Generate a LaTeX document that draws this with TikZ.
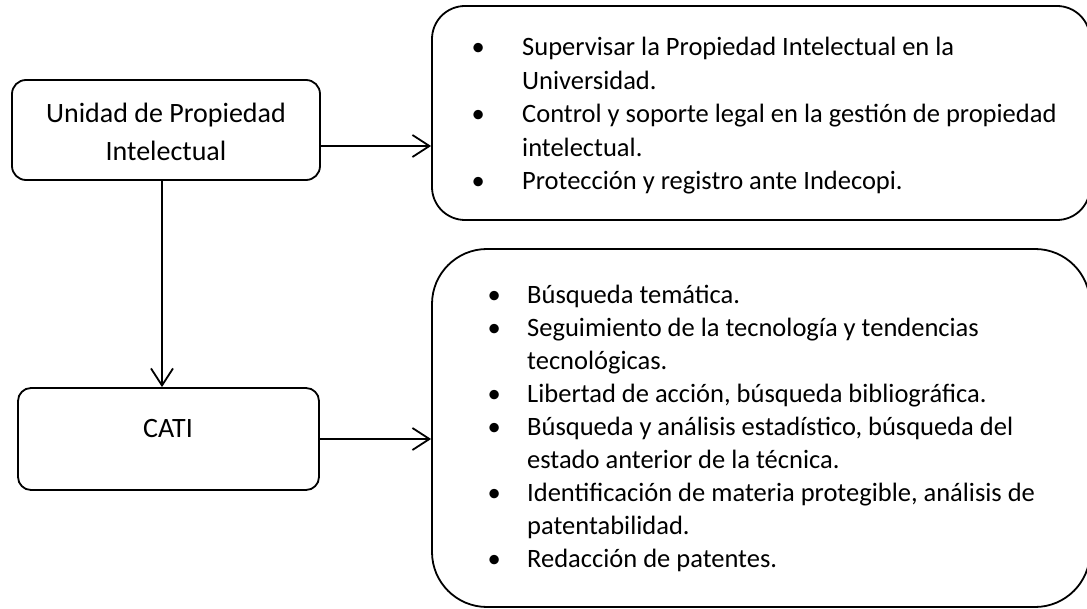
\documentclass[tikz,border=0pt]{standalone}
\usepackage{fontspec}
\setmainfont{Carlito}
\usetikzlibrary{arrows.meta}
\begin{document}
\begin{tikzpicture}[x=1pt,y=-1pt,
  box/.style={draw=black,line width=1.8pt,rounded corners=#1,inner sep=0pt},
  arr/.style={line width=1.8pt,-{Straight Barb[length=17pt,width=22pt,line width=1.8pt]}},
  lbl/.style={inner sep=0pt,anchor=base},
  lst/.style={inner sep=0pt,anchor=base west}]
\useasboundingbox (0,0) rectangle (1087,609);
% boxes
\node[box=14pt,minimum width=308pt,minimum height=100pt] (upi) at (166,130) {};
\node[box=13pt,minimum width=301pt,minimum height=102pt] (cati) at (168.5,439) {};
\node[box=33pt,minimum width=658pt,minimum height=214pt] (tr) at (761,113) {};
\node[box=55pt,minimum width=658pt,minimum height=358pt] (br) at (761,428) {};
% labels
\node[lbl] (upit) at (166,123) {\fontsize{28}{38}\selectfont
\begin{tabular}[t]{@{}c@{}}Unidad de Propiedad\\Intelectual\end{tabular}};
\node[lbl] (catit) at (168,437) {\fontsize{28}{38}\selectfont CATI};
% lists
\node[lst] (trl) at (478,56) {\fontsize{26.5}{33.5}\selectfont
\begin{tabular}[t]{@{}l@{\hspace{44pt}}l@{}}
\makebox[0pt]{\textbullet} & Supervisar la Propiedad Intelectual en la\\
 & Universidad.\\
\makebox[0pt]{\textbullet} & Control y soporte legal en la gestión de propiedad\\
 & intelectual.\\
\makebox[0pt]{\textbullet} & Protección y registro ante Indecopi.
\end{tabular}};
\node[lst] (brl) at (494,304) {\fontsize{26.5}{33}\selectfont
\begin{tabular}[t]{@{}l@{\hspace{33pt}}l@{}}
\makebox[0pt]{\textbullet} & Búsqueda temática.\\
\makebox[0pt]{\textbullet} & Seguimiento de la tecnología y tendencias\\
 & tecnológicas.\\
\makebox[0pt]{\textbullet} & Libertad de acción, búsqueda bibliográfica.\\
\makebox[0pt]{\textbullet} & Búsqueda y análisis estadístico, búsqueda del\\
 & estado anterior de la técnica.\\
\makebox[0pt]{\textbullet} & Identificación de materia protegible, análisis de\\
 & patentabilidad.\\
\makebox[0pt]{\textbullet} & Redacción de patentes.
\end{tabular}};
% connectors
\coordinate (a1) at ([yshift=-16pt]upi.east);
\draw[arr] (a1) -- (a1 -| tr.west);
\draw[arr] (cati.east) -- (cati.east -| br.west);
\coordinate (a2) at ([xshift=-4pt]upi.south);
\draw[arr] (a2) -- (a2 |- cati.north);
\end{tikzpicture}
\end{document}
